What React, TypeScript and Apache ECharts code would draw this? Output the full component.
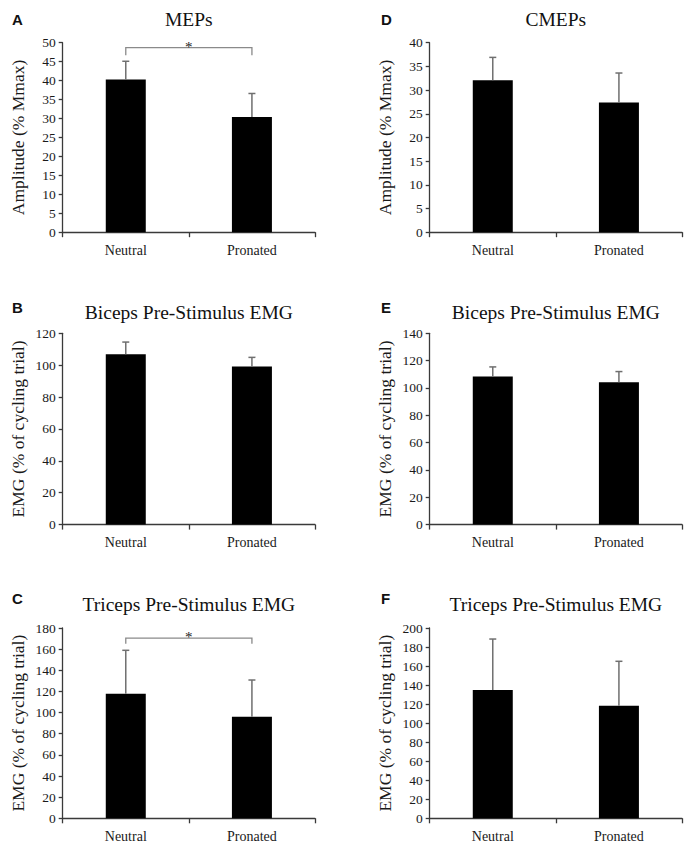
import React, { useEffect, useRef } from 'react';
import * as echarts from 'echarts';

const categories = ['Neutral', 'Pronated'];

const mepsMean = [40.3, 30.4];
const mepsSD = [4.8, 6.2];
const cmepsMean = [32.1, 27.4];
const cmepsSD = [4.8, 6.2];
const bicepsLeftMean = [106.8, 99.2];
const bicepsLeftSD = [7.7, 5.7];
const bicepsRightMean = [108.3, 104.2];
const bicepsRightSD = [7.1, 7.8];
const tricepsLeftMean = [117.9, 96.1];
const tricepsLeftSD = [41.0, 34.7];
const tricepsRightMean = [134.8, 118.3];
const tricepsRightSD = [53.6, 46.7];

const panelLetters = ['A', 'B', 'C', 'D', 'E', 'F'];
const panelTitles = [
  'MEPs',
  'Biceps Pre-Stimulus EMG',
  'Triceps Pre-Stimulus EMG',
  'CMEPs',
  'Biceps Pre-Stimulus EMG',
  'Triceps Pre-Stimulus EMG',
];
const yAxisNames = [
  'Amplitude (% Mmax)',
  'EMG (% of cycling trial)',
  'EMG (% of cycling trial)',
  'Amplitude (% Mmax)',
  'EMG (% of cycling trial)',
  'EMG (% of cycling trial)',
];
const yMaxes = [50, 120, 180, 40, 140, 200];
const yIntervals = [5, 20, 20, 5, 20, 20];

// significance brackets: [bracket level, leg end]
const sigBracketA = [48.7, 46.7];
const sigBracketC = [170.5, 165.0];

const SERIF = 'Liberation Serif';
const SANS = 'Liberation Sans';

export default function App() {
  const ref = useRef<HTMLDivElement>(null);

  useEffect(() => {
    if (!ref.current) return;
    const chart = echarts.init(ref.current, undefined, { renderer: 'svg' });

    const means = [mepsMean, bicepsLeftMean, tricepsLeftMean, cmepsMean, bicepsRightMean, tricepsRightMean];
    const sds = [mepsSD, bicepsLeftSD, tricepsLeftSD, cmepsSD, bicepsRightSD, tricepsRightSD];
    const brackets: (number[] | null)[] = [sigBracketA, null, sigBracketC, null, null, null];

    const colLeft = [62.7, 429.7];
    const rowTop = [42.7, 333.3, 628];
    const rowHeight = [189.5, 191.3, 190.3];
    const plotWidth = 252.3;

    const grids: any[] = [];
    const xAxes: any[] = [];
    const yAxes: any[] = [];
    const series: any[] = [];
    const graphics: any[] = [];

    const titleY = [19.5, 312, 604];
    const letterY = [19, 307, 598];
    const letterX = [12, 381];

    for (let i = 0; i < 6; i++) {
      const col = Math.floor(i / 3);
      const row = i % 3;
      grids.push({
        left: colLeft[col],
        top: rowTop[row],
        width: plotWidth,
        height: rowHeight[row],
        containLabel: false,
      });
      xAxes.push({
        type: 'category',
        gridIndex: i,
        data: categories,
        boundaryGap: true,
        axisLine: { show: true, lineStyle: { color: '#3a3a3a', width: 1.3 } },
        axisTick: { show: true, length: 5, alignWithLabel: false, lineStyle: { color: '#3a3a3a', width: 1.3 } },
        axisLabel: { fontFamily: SERIF, fontSize: 14, color: '#1a1a1a', margin: 11 },
        splitLine: { show: false },
      });
      yAxes.push({
        type: 'value',
        gridIndex: i,
        min: 0,
        max: yMaxes[i],
        interval: yIntervals[i],
        name: yAxisNames[i],
        nameLocation: 'middle',
        nameGap: 36,
        nameRotate: 90,
        nameTextStyle: { fontFamily: SERIF, fontSize: 17.5, color: '#1a1a1a' },
        axisLine: { show: true, lineStyle: { color: '#3a3a3a', width: 1.3 } },
        axisTick: { show: true, length: 4, lineStyle: { color: '#3a3a3a', width: 1.3 } },
        axisLabel: { fontFamily: SERIF, fontSize: 13.5, color: '#1a1a1a', margin: 7 },
        splitLine: { show: false },
      });
      series.push({
        type: 'bar',
        xAxisIndex: i,
        yAxisIndex: i,
        data: means[i],
        barWidth: 40,
        itemStyle: { color: '#000000' },
        silent: true,
      });
      series.push({
        type: 'custom',
        xAxisIndex: i,
        yAxisIndex: i,
        data: means[i].map((m, k) => [k, m, sds[i][k]]),
        encode: { x: 0, y: [1, 2] },
        z: 5,
        silent: true,
        renderItem: (params: any, api: any) => {
          const x = api.value(0);
          const m = api.value(1);
          const s = api.value(2);
          const p0 = api.coord([x, m]);
          const p1 = api.coord([x, m + s]);
          const st = { stroke: '#6f6f6f', lineWidth: 1.5 };
          return {
            type: 'group',
            children: [
              { type: 'line', shape: { x1: p0[0], y1: p0[1], x2: p1[0], y2: p1[1] }, style: st },
              { type: 'line', shape: { x1: p1[0] - 3.5, y1: p1[1], x2: p1[0] + 3.5, y2: p1[1] }, style: st },
            ],
          };
        },
      });
      const br = brackets[i];
      if (br) {
        series.push({
          type: 'custom',
          xAxisIndex: i,
          yAxisIndex: i,
          data: [[0, br[0], br[1]]],
          encode: { x: 0, y: [1, 2] },
          z: 5,
          silent: true,
          renderItem: (params: any, api: any) => {
            const level = api.value(1);
            const leg = api.value(2);
            const a = api.coord([0, level]);
            const b = api.coord([1, level]);
            const la = api.coord([0, leg]);
            return {
              type: 'group',
              children: [
                {
                  type: 'polyline',
                  shape: { points: [[a[0], la[1]], [a[0], a[1]], [b[0], a[1]], [b[0], la[1]]] },
                  style: { stroke: '#8a8a8a', lineWidth: 1.3, fill: 'none' },
                },
                {
                  type: 'text',
                  x: (a[0] + b[0]) / 2,
                  y: a[1] - 1,
                  style: {
                    text: '*',
                    fontFamily: SERIF,
                    fontSize: 15,
                    fill: '#222222',
                    align: 'center',
                    verticalAlign: 'middle',
                  },
                },
              ],
            };
          },
        });
      }
      graphics.push({
        type: 'text',
        x: colLeft[col] + plotWidth / 2,
        y: titleY[row],
        style: {
          text: panelTitles[i],
          fontFamily: SERIF,
          fontSize: 19.5,
          fill: '#111',
          align: 'center',
          verticalAlign: 'middle',
        },
      });
      graphics.push({
        type: 'text',
        x: letterX[col],
        y: letterY[row],
        style: {
          text: panelLetters[i],
          fontFamily: SANS,
          fontWeight: 'bold',
          fontSize: 15,
          fill: '#111',
          align: 'left',
          verticalAlign: 'middle',
        },
      });
    }

    chart.setOption({
      animation: false,
      backgroundColor: '#ffffff',
      textStyle: { fontFamily: SERIF },
      grid: grids,
      xAxis: xAxes,
      yAxis: yAxes,
      series,
      graphic: graphics,
    });

    return () => chart.dispose();
  }, []);

  return (
    <div
      ref={ref}
      style={{ position: 'absolute', left: 0, top: 0, width: 694, height: 850, background: '#fff' }}
    />
  );
}
